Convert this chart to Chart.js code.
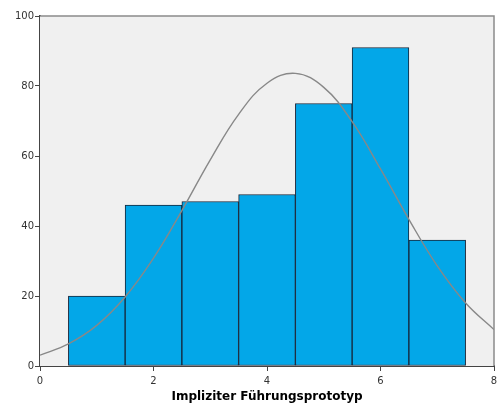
<!DOCTYPE html>
<html>
<head>
<meta charset="utf-8">
<script src="https://cdn.jsdelivr.net/npm/chart.js@4.4.1/dist/chart.umd.min.js"></script>
<style>
  html, body { margin: 0; padding: 0; background: #ffffff; }
  #wrap { width: 502px; height: 413px; }
</style>
</head>
<body>
<div id="wrap"><canvas id="c" width="502" height="413"></canvas></div>
<script>
// Histogram bins (bin centres) and counts
const binCenters = [1, 2, 3, 4, 5, 6, 7];
const counts = [20, 46, 47, 49, 75, 91, 36];

// Fitted normal curve, sampled every half unit
const curveX = [0, 0.5, 1, 1.5, 2, 2.5, 3, 3.5, 4, 4.5, 5, 5.5, 6, 6.5, 7, 7.5, 8];
const curveY = [3.1, 6.3, 11.6, 19.7, 30.8, 44.4, 58.9, 71.9, 80.8, 83.6, 79.6, 69.8, 56.3, 41.9, 28.6, 18.0, 10.4];

// Axis ticks
const xTicks = [0, 2, 4, 6, 8];
const yTicks = [0, 20, 40, 60, 80, 100];

const axisTitle = 'Impliziter Führungsprototyp';

const plotFrame = {
  id: 'plotFrame',
  beforeDatasetsDraw(chart) {
    const { ctx, chartArea: a } = chart;
    ctx.save();
    ctx.fillStyle = '#f0f0f0';
    ctx.fillRect(a.left, a.top, a.right - a.left, a.bottom - a.top);
    ctx.restore();
  },
  afterDatasetsDraw(chart) {
    const { ctx, chartArea: a } = chart;
    ctx.save();
    ctx.strokeStyle = '#8a8a8a';
    ctx.lineWidth = 1.5;
    ctx.beginPath();
    ctx.moveTo(a.left, a.top);
    ctx.lineTo(a.right, a.top);
    ctx.lineTo(a.right, a.bottom);
    ctx.stroke();
    ctx.restore();
  }
};

new Chart(document.getElementById('c'), {
  type: 'bar',
  data: {
    datasets: [
      {
        type: 'line',
        data: curveX.map((x, i) => ({ x: x, y: curveY[i] })),
        borderColor: '#888888',
        borderWidth: 1.4,
        pointRadius: 0,
        tension: 0.4,
        fill: false,
        order: 0
      },
      {
        type: 'bar',
        data: binCenters.map((x, i) => ({ x: x, y: counts[i] })),
        backgroundColor: '#03a7e8',
        borderColor: '#16263a',
        borderWidth: 1,
        borderSkipped: false,
        barPercentage: 1,
        categoryPercentage: 1,
        order: 1
      }
    ]
  },
  options: {
    responsive: false,
    animation: false,
    layout: { padding: { top: 16, right: 8, left: 0, bottom: 0 } },
    plugins: { legend: { display: false }, tooltip: { enabled: false } },
    scales: {
      x: {
        type: 'linear',
        min: 0,
        max: 8,
        offset: false,
        afterBuildTicks(scale) { scale.ticks = xTicks.map(v => ({ value: v })); },
        afterFit(scale) { scale.height = 47; },
        grid: { offset: false, drawOnChartArea: false, drawTicks: true, tickLength: 5, color: '#444444', lineWidth: 1 },
        border: { color: '#444444', width: 2 },
        ticks: { color: '#333333', font: { family: 'DejaVu Sans', size: 10 }, padding: 4, maxRotation: 0 },
        title: { display: true, text: axisTitle, color: '#000000', font: { family: 'DejaVu Sans', size: 12, weight: 'bold' }, padding: { top: 2, bottom: 9 } }
      },
      y: {
        type: 'linear',
        min: 0,
        max: 100,
        afterBuildTicks(scale) { scale.ticks = yTicks.map(v => ({ value: v })); },
        afterFit(scale) { scale.width = 40; },
        grid: { drawOnChartArea: false, drawTicks: true, tickLength: 5, color: '#444444', lineWidth: 1 },
        border: { color: '#444444', width: 2 },
        ticks: { color: '#333333', font: { family: 'DejaVu Sans', size: 10 }, padding: 1 }
      }
    }
  },
  plugins: [plotFrame]
});
</script>
</body>
</html>
